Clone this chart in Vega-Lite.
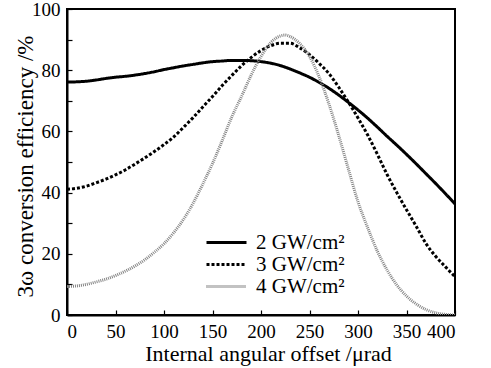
{
  "$schema": "https://vega.github.io/schema/vega-lite/v6.json",
  "width": 388,
  "height": 306,
  "autosize": {"type": "none"},
  "padding": {"left": 67, "top": 9, "right": 36, "bottom": 53},
  "background": "white",
  "config": {
    "font": "Liberation Serif",
    "view": {"stroke": "black", "strokeWidth": 2},
    "axis": {
      "labelFont": "Liberation Serif",
      "titleFont": "Liberation Serif",
      "labelFontSize": 19,
      "titleFontSize": 22,
      "titleFontWeight": "normal",
      "labelColor": "black",
      "titleColor": "black",
      "domainColor": "black",
      "domainWidth": 2,
      "tickColor": "black",
      "tickWidth": 1.2,
      "tickSize": -5,
      "grid": false,
      "labelPadding": 12
    },
    "legend": {
      "labelFont": "Liberation Serif",
      "labelFontSize": 21,
      "labelColor": "black"
    }
  },
  "data": {"values": [
    {"x":0,"y":76.1,"s":"2 GW/cm²"},{"x":10,"y":76.2,"s":"2 GW/cm²"},{"x":20,"y":76.4,"s":"2 GW/cm²"},{"x":30,"y":76.8,"s":"2 GW/cm²"},{"x":40,"y":77.3,"s":"2 GW/cm²"},{"x":50,"y":77.7,"s":"2 GW/cm²"},{"x":60,"y":78.0,"s":"2 GW/cm²"},{"x":70,"y":78.4,"s":"2 GW/cm²"},{"x":80,"y":78.9,"s":"2 GW/cm²"},{"x":90,"y":79.5,"s":"2 GW/cm²"},{"x":100,"y":80.2,"s":"2 GW/cm²"},{"x":110,"y":80.8,"s":"2 GW/cm²"},{"x":120,"y":81.4,"s":"2 GW/cm²"},{"x":130,"y":81.9,"s":"2 GW/cm²"},{"x":140,"y":82.4,"s":"2 GW/cm²"},{"x":150,"y":82.8,"s":"2 GW/cm²"},{"x":160,"y":83.0,"s":"2 GW/cm²"},{"x":170,"y":83.2,"s":"2 GW/cm²"},{"x":180,"y":83.2,"s":"2 GW/cm²"},{"x":190,"y":83.1,"s":"2 GW/cm²"},{"x":200,"y":82.8,"s":"2 GW/cm²"},{"x":210,"y":82.3,"s":"2 GW/cm²"},{"x":220,"y":81.5,"s":"2 GW/cm²"},{"x":230,"y":80.4,"s":"2 GW/cm²"},{"x":240,"y":79.1,"s":"2 GW/cm²"},{"x":250,"y":77.7,"s":"2 GW/cm²"},{"x":260,"y":76.0,"s":"2 GW/cm²"},{"x":270,"y":74.1,"s":"2 GW/cm²"},{"x":280,"y":71.9,"s":"2 GW/cm²"},{"x":290,"y":69.5,"s":"2 GW/cm²"},{"x":300,"y":67.0,"s":"2 GW/cm²"},{"x":310,"y":64.3,"s":"2 GW/cm²"},{"x":320,"y":61.4,"s":"2 GW/cm²"},{"x":330,"y":58.4,"s":"2 GW/cm²"},{"x":340,"y":55.5,"s":"2 GW/cm²"},{"x":350,"y":52.5,"s":"2 GW/cm²"},{"x":360,"y":49.4,"s":"2 GW/cm²"},{"x":370,"y":46.2,"s":"2 GW/cm²"},{"x":380,"y":43.0,"s":"2 GW/cm²"},{"x":390,"y":39.7,"s":"2 GW/cm²"},{"x":400,"y":36.3,"s":"2 GW/cm²"},
    {"x":0,"y":41.1,"s":"3 GW/cm²"},{"x":10,"y":41.4,"s":"3 GW/cm²"},{"x":20,"y":42.1,"s":"3 GW/cm²"},{"x":30,"y":43.2,"s":"3 GW/cm²"},{"x":40,"y":44.4,"s":"3 GW/cm²"},{"x":50,"y":45.8,"s":"3 GW/cm²"},{"x":60,"y":47.4,"s":"3 GW/cm²"},{"x":70,"y":49.3,"s":"3 GW/cm²"},{"x":80,"y":51.3,"s":"3 GW/cm²"},{"x":90,"y":53.4,"s":"3 GW/cm²"},{"x":100,"y":55.7,"s":"3 GW/cm²"},{"x":110,"y":58.2,"s":"3 GW/cm²"},{"x":120,"y":61.3,"s":"3 GW/cm²"},{"x":130,"y":64.5,"s":"3 GW/cm²"},{"x":140,"y":68.0,"s":"3 GW/cm²"},{"x":150,"y":71.4,"s":"3 GW/cm²"},{"x":160,"y":75.0,"s":"3 GW/cm²"},{"x":170,"y":78.3,"s":"3 GW/cm²"},{"x":180,"y":81.5,"s":"3 GW/cm²"},{"x":190,"y":84.2,"s":"3 GW/cm²"},{"x":200,"y":86.4,"s":"3 GW/cm²"},{"x":210,"y":88.0,"s":"3 GW/cm²"},{"x":220,"y":88.8,"s":"3 GW/cm²"},{"x":230,"y":88.8,"s":"3 GW/cm²"},{"x":240,"y":87.3,"s":"3 GW/cm²"},{"x":250,"y":85.1,"s":"3 GW/cm²"},{"x":260,"y":82.2,"s":"3 GW/cm²"},{"x":270,"y":78.9,"s":"3 GW/cm²"},{"x":280,"y":74.5,"s":"3 GW/cm²"},{"x":290,"y":69.6,"s":"3 GW/cm²"},{"x":300,"y":64.4,"s":"3 GW/cm²"},{"x":310,"y":58.8,"s":"3 GW/cm²"},{"x":320,"y":52.5,"s":"3 GW/cm²"},{"x":330,"y":45.9,"s":"3 GW/cm²"},{"x":340,"y":40.0,"s":"3 GW/cm²"},{"x":350,"y":34.4,"s":"3 GW/cm²"},{"x":360,"y":29.0,"s":"3 GW/cm²"},{"x":370,"y":23.4,"s":"3 GW/cm²"},{"x":380,"y":19.2,"s":"3 GW/cm²"},{"x":390,"y":15.8,"s":"3 GW/cm²"},{"x":400,"y":12.5,"s":"3 GW/cm²"},
    {"x":0,"y":9.3,"s":"4 GW/cm²"},{"x":10,"y":9.5,"s":"4 GW/cm²"},{"x":20,"y":10.0,"s":"4 GW/cm²"},{"x":30,"y":10.8,"s":"4 GW/cm²"},{"x":40,"y":11.7,"s":"4 GW/cm²"},{"x":50,"y":12.9,"s":"4 GW/cm²"},{"x":60,"y":14.3,"s":"4 GW/cm²"},{"x":70,"y":16.0,"s":"4 GW/cm²"},{"x":80,"y":18.0,"s":"4 GW/cm²"},{"x":90,"y":20.5,"s":"4 GW/cm²"},{"x":100,"y":23.3,"s":"4 GW/cm²"},{"x":110,"y":26.9,"s":"4 GW/cm²"},{"x":120,"y":31.2,"s":"4 GW/cm²"},{"x":130,"y":36.5,"s":"4 GW/cm²"},{"x":140,"y":42.8,"s":"4 GW/cm²"},{"x":150,"y":49.5,"s":"4 GW/cm²"},{"x":160,"y":57.0,"s":"4 GW/cm²"},{"x":170,"y":64.8,"s":"4 GW/cm²"},{"x":180,"y":71.5,"s":"4 GW/cm²"},{"x":190,"y":78.5,"s":"4 GW/cm²"},{"x":200,"y":84.5,"s":"4 GW/cm²"},{"x":210,"y":89.0,"s":"4 GW/cm²"},{"x":220,"y":91.2,"s":"4 GW/cm²"},{"x":225,"y":91.5,"s":"4 GW/cm²"},{"x":230,"y":91.0,"s":"4 GW/cm²"},{"x":240,"y":88.7,"s":"4 GW/cm²"},{"x":250,"y":84.5,"s":"4 GW/cm²"},{"x":260,"y":77.8,"s":"4 GW/cm²"},{"x":270,"y":69.0,"s":"4 GW/cm²"},{"x":280,"y":58.8,"s":"4 GW/cm²"},{"x":290,"y":47.8,"s":"4 GW/cm²"},{"x":300,"y":37.0,"s":"4 GW/cm²"},{"x":310,"y":28.5,"s":"4 GW/cm²"},{"x":320,"y":20.8,"s":"4 GW/cm²"},{"x":330,"y":14.7,"s":"4 GW/cm²"},{"x":340,"y":9.8,"s":"4 GW/cm²"},{"x":350,"y":6.2,"s":"4 GW/cm²"},{"x":360,"y":3.6,"s":"4 GW/cm²"},{"x":370,"y":1.8,"s":"4 GW/cm²"},{"x":380,"y":0.7,"s":"4 GW/cm²"},{"x":390,"y":0.2,"s":"4 GW/cm²"},{"x":400,"y":0.0,"s":"4 GW/cm²"}
  ]},
  "mark": {"type": "line", "interpolate": "monotone", "strokeWidth": 3, "clip": true},
  "encoding": {
    "x": {
      "field": "x", "type": "quantitative",
      "scale": {"domain": [0, 400], "nice": false},
      "axis": {
        "values": [0, 50, 100, 150, 200, 250, 300, 350, 400],
        "title": "Internal angular offset /μrad",
        "titleX": 201, "titleY": 45, "titleBaseline": "alphabetic", "titleAnchor": "middle", "titleAlign": "center"
      }
    },
    "y": {
      "field": "y", "type": "quantitative",
      "scale": {"domain": [0, 100], "nice": false},
      "axis": {
        "values": [0, 10, 20, 30, 40, 50, 60, 70, 80, 90, 100],
        "labelExpr": "datum.value % 20 == 0 ? datum.label : ''",
        "title": "3ω conversion efficiency /%",
        "titleFontSize": 23,
        "titleX": -35, "titleY": 157, "titleBaseline": "alphabetic", "titleAlign": "center", "titleAngle": -90
      }
    },
    "color": {
      "field": "s", "type": "nominal",
      "scale": {"domain": ["2 GW/cm²", "3 GW/cm²", "4 GW/cm²"], "range": ["#000000", "#000000", "#858585"]},
      "legend": {
        "title": null, "orient": "none", "legendX": 138, "legendY": 223,
        "symbolType": "stroke", "symbolSize": 1600, "symbolStrokeWidth": 3,
        "labelOffset": 8, "rowPadding": 0, "clipHeight": 21, "padding": 0
      }
    },
    "strokeDash": {
      "field": "s", "type": "nominal",
      "scale": {"domain": ["2 GW/cm²", "3 GW/cm²", "4 GW/cm²"], "range": [[1, 0], [3, 2], [1, 1]]},
      "legend": {
        "title": null, "orient": "none", "legendX": 138, "legendY": 223,
        "symbolType": "stroke", "symbolSize": 1600, "symbolStrokeWidth": 3,
        "labelOffset": 8, "rowPadding": 0, "clipHeight": 21, "padding": 0
      }
    },
    "strokeWidth": {
      "field": "s", "type": "nominal",
      "scale": {"domain": ["2 GW/cm²", "3 GW/cm²", "4 GW/cm²"], "range": [3, 3, 2.5]},
      "legend": null
    }
  }
}
